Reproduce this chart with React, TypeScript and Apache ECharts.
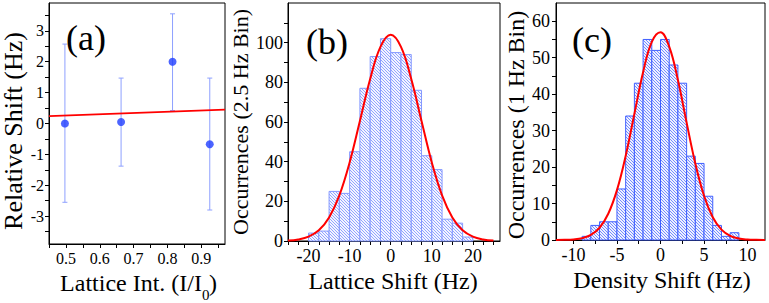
import React, { useEffect, useRef } from "react";
import * as echarts from "echarts";

// ---------- Panel (a) data ----------
const aX = [0.497, 0.663, 0.815, 0.925];
const aY = [0.0, 0.05, 2.0, -0.67];
const aErrLow = [-2.55, -1.38, 0.42, -2.8];
const aErrHigh = [2.57, 1.47, 3.55, 1.47];
const aFitX = [0.45, 0.97];
const aFitY = [0.24, 0.45];
const aXTicks = [0.45, 0.5, 0.55, 0.6, 0.65, 0.7, 0.75, 0.8, 0.85, 0.9, 0.95];
const aXLabels = [0.5, 0.6, 0.7, 0.8, 0.9];
const aYTicks = [-3.5, -3, -2.5, -2, -1.5, -1, -0.5, 0, 0.5, 1, 1.5, 2, 2.5, 3, 3.5];
const aYLabels = [-3, -2, -1, 0, 1, 2, 3];

// ---------- Panel (b) data ----------
const bBinLeft = [-20, -17.5, -15, -12.5, -10, -7.5, -5, -2.5, 0, 2.5, 5, 7.5, 10, 12.5, 15, 17.5];
const bBinRight = [-17.5, -15, -12.5, -10, -7.5, -5, -2.5, 0, 2.5, 5, 7.5, 10, 12.5, 15, 17.5, 20];
const bCounts = [4, 5, 25, 24, 45, 77, 93, 102, 95, 94, 76, 43, 36, 11, 9, 2];
const bFitX = [-25, -22.5, -20, -17.5, -15, -12.5, -10, -7.5, -5, -2.5, 0, 2.5, 5, 7.5, 10, 12.5, 15, 17.5, 20, 22.5, 25];
const bFitY = [0.25, 0.8, 2.2, 5.4, 11.9, 23.0, 39.6, 60.5, 81.7, 97.9, 104, 97.9, 81.7, 60.5, 39.6, 23.0, 11.9, 5.4, 2.2, 0.8, 0.25];
const bXTicks = [-25, -22.5, -20, -17.5, -15, -12.5, -10, -7.5, -5, -2.5, 0, 2.5, 5, 7.5, 10, 12.5, 15, 17.5, 20, 22.5, 25];
const bXLabels = [-20, -10, 0, 10, 20];
const bYTicks = [0, 10, 20, 30, 40, 50, 60, 70, 80, 90, 100, 110];
const bYLabels = [0, 20, 40, 60, 80, 100];

// ---------- Panel (c) data ----------
const cBinLeft = [-9, -8, -7, -6, -5, -4, -3, -2, -1, 0, 1, 2, 3, 4, 5, 6, 7, 8];
const cBinRight = [-8, -7, -6, -5, -4, -3, -2, -1, 0, 1, 2, 3, 4, 5, 6, 7, 8, 9];
const cCounts = [1, 4, 5, 5, 14, 34, 43, 55, 52, 55, 48, 43, 23, 21, 12, 4, 1, 2];
const cFitX = [-12, -11, -10, -9, -8, -7, -6, -5, -4, -3, -2, -1, 0, 1, 2, 3, 4, 5, 6, 7, 8, 9, 10, 11, 12];
const cFitY = [0.01, 0.05, 0.17, 0.51, 1.39, 3.36, 7.19, 13.67, 23.07, 34.57, 45.99, 54.32, 56.97, 53.04, 43.86, 32.19, 20.98, 12.14, 6.24, 2.85, 1.15, 0.41, 0.13, 0.04, 0.01];
const cXTicks = [-10, -7.5, -5, -2.5, 0, 2.5, 5, 7.5, 10];
const cXLabels = [-10, -5, 0, 5, 10];
const cYTicks = [0, 5, 10, 15, 20, 25, 30, 35, 40, 45, 50, 55, 60];
const cYLabels = [0, 10, 20, 30, 40, 50, 60];

const SERIF = "Liberation Serif, Times New Roman, DejaVu Serif, serif";

function hatch(lineColor: string, bg: string) {
  const svg =
    `<svg xmlns='http://www.w3.org/2000/svg' width='3' height='3'>` +
    `<rect width='3' height='3' fill='${bg}'/>` +
    `<path d='M-1,-1 L4,4 M-1,2 L1,4 M2,-1 L4,1' stroke='${lineColor}' stroke-width='0.75'/>` +
    `</svg>`;
  return {
    image: "data:image/svg+xml;charset=utf-8," + encodeURIComponent(svg),
    repeat: "repeat",
    imageWidth: 3,
    imageHeight: 3,
  };
}

function valAxis(
  gridIndex: number,
  min: number,
  max: number,
  ticks: number[],
  labels: number[],
  fontSize: number,
  margin: number
) {
  return {
    type: "value",
    gridIndex,
    min,
    max,
    axisLine: { show: true, onZero: false, lineStyle: { color: "#000", width: 1 } },
    axisTick: { show: true, inside: false, length: 4, customValues: ticks, lineStyle: { color: "#000", width: 1 } },
    axisLabel: {
      customValues: labels,
      fontSize,
      color: "#000",
      fontFamily: SERIF,
      margin,
    },
    splitLine: { show: false },
    minorTick: { show: false },
  };
}

function histRender(fill: any, stroke: string) {
  return (params: any, api: any) => {
    const x0 = api.value(0);
    const x1 = api.value(1);
    const h = api.value(2);
    const p0 = api.coord([x0, 0]);
    const p1 = api.coord([x1, h]);
    return {
      type: "rect",
      shape: { x: p0[0], y: p1[1], width: p1[0] - p0[0], height: p0[1] - p1[1] },
      style: { fill, stroke, lineWidth: 1 },
    };
  };
}

function txt(text: string, size: number, extra: any) {
  return {
    type: "text",
    z: 10,
    ...extra,
    style: {
      text,
      fontSize: size,
      fontFamily: SERIF,
      fill: "#000",
      align: "center",
      verticalAlign: "middle",
      ...(extra.style || {}),
    },
  };
}

export default function App() {
  const ref = useRef<HTMLDivElement>(null);
  useEffect(() => {
    if (!ref.current) return;
    const chart = echarts.init(ref.current, undefined, { renderer: "svg" });

    const gridBase = { show: true, borderColor: "#000", borderWidth: 1, containLabel: false, outerBoundsMode: "none" };

    const option: any = {
      animation: false,
      backgroundColor: "#fff",
      grid: [
        { ...gridBase, left: 49, top: 3, width: 176, height: 241 },
        { ...gridBase, left: 288, top: 3, width: 212, height: 238 },
        { ...gridBase, left: 556, top: 3, width: 209, height: 237 },
      ],
      xAxis: [
        valAxis(0, 0.45, 0.97, aXTicks, aXLabels, 16, 6),
        valAxis(1, -25, 26.6, bXTicks, bXLabels, 18, 6),
        valAxis(2, -12, 12, cXTicks, cXLabels, 18, 6),
      ],
      yAxis: [
        valAxis(0, -3.9, 3.9, aYTicks, aYLabels, 16, 5),
        valAxis(1, 0, 120, bYTicks, bYLabels, 18, 5),
        valAxis(2, 0, 65, cYTicks, cYLabels, 18, 6),
      ],
      series: [
        {
          type: "custom",
          xAxisIndex: 0,
          yAxisIndex: 0,
          data: aX.map((x, i) => [x, aErrLow[i], aErrHigh[i]]),
          encode: { x: 0, y: [1, 2] },
          renderItem: (params: any, api: any) => {
            const x = api.value(0);
            const lo = api.coord([x, api.value(1)]);
            const hi = api.coord([x, api.value(2)]);
            const cap = 2.5;
            const st = { stroke: "#8ea0ff", lineWidth: 1 };
            return {
              type: "group",
              children: [
                { type: "line", shape: { x1: lo[0], y1: lo[1], x2: hi[0], y2: hi[1] }, style: st },
                { type: "line", shape: { x1: lo[0] - cap, y1: lo[1], x2: lo[0] + cap, y2: lo[1] }, style: st },
                { type: "line", shape: { x1: hi[0] - cap, y1: hi[1], x2: hi[0] + cap, y2: hi[1] }, style: st },
              ],
            };
          },
          z: 2,
        },
        {
          type: "line",
          xAxisIndex: 0,
          yAxisIndex: 0,
          data: aFitX.map((x, i) => [x, aFitY[i]]),
          symbol: "none",
          lineStyle: { color: "#ff0000", width: 1.6 },
          z: 3,
        },
        {
          type: "scatter",
          xAxisIndex: 0,
          yAxisIndex: 0,
          data: aX.map((x, i) => [x, aY[i]]),
          symbol: "circle",
          symbolSize: 8,
          itemStyle: { color: "#1f3dff" },
          z: 4,
        },
        {
          type: "custom",
          xAxisIndex: 1,
          yAxisIndex: 1,
          data: bBinLeft.map((l, i) => [l, bBinRight[i], bCounts[i]]),
          encode: { x: [0, 1], y: 2 },
          renderItem: histRender(hatch("#7389ff", "#f3f5ff"), "#8599ff"),
          z: 2,
        },
        {
          type: "line",
          xAxisIndex: 1,
          yAxisIndex: 1,
          data: bFitX.map((x, i) => [x, bFitY[i]]),
          symbol: "none",
          smooth: 0.4,
          lineStyle: { color: "#ff0000", width: 2 },
          z: 3,
        },
        {
          type: "custom",
          xAxisIndex: 2,
          yAxisIndex: 2,
          data: cBinLeft.map((l, i) => [l, cBinRight[i], cCounts[i]]),
          encode: { x: [0, 1], y: 2 },
          renderItem: histRender(hatch("#4e6bff", "#eef1ff"), "#3f5fff"),
          z: 2,
        },
        {
          type: "line",
          xAxisIndex: 2,
          yAxisIndex: 2,
          data: cFitX.map((x, i) => [x, cFitY[i]]),
          symbol: "none",
          smooth: 0.4,
          lineStyle: { color: "#ff0000", width: 2 },
          z: 3,
        },
      ],
      graphic: [
        // panel labels
        txt("(a)", 36, { x: 86, y: 38 }),
        txt("(b)", 36, { x: 327, y: 42 }),
        txt("(c)", 36, { x: 592, y: 40 }),
        // y titles
        txt("Relative Shift (Hz)", 26, { x: 13, y: 131, rotation: Math.PI / 2 }),
        txt("Occurrences (2.5 Hz Bin)", 22, { x: 240, y: 122, rotation: Math.PI / 2 }),
        txt("Occurrences (1 Hz Bin)", 24, { x: 516, y: 125, rotation: Math.PI / 2 }),
        // x titles
        txt("Lattice Int. (I/I", 24, { x: 202, y: 283, style: { align: "right" } }),
        txt("0", 15, { x: 202, y: 295, style: { align: "left" } }),
        txt(")", 24, { x: 209, y: 283, style: { align: "left" } }),
        txt("Lattice Shift (Hz)", 24, { x: 393, y: 281 }),
        txt("Density Shift (Hz)", 24, { x: 662, y: 280 }),
      ],
    };

    chart.setOption(option);
    return () => {
      chart.dispose();
    };
  }, []);

  return (
    <div
      ref={ref}
      style={{ position: "absolute", left: 0, top: 0, width: 769, height: 303, background: "#fff" }}
    />
  );
}
